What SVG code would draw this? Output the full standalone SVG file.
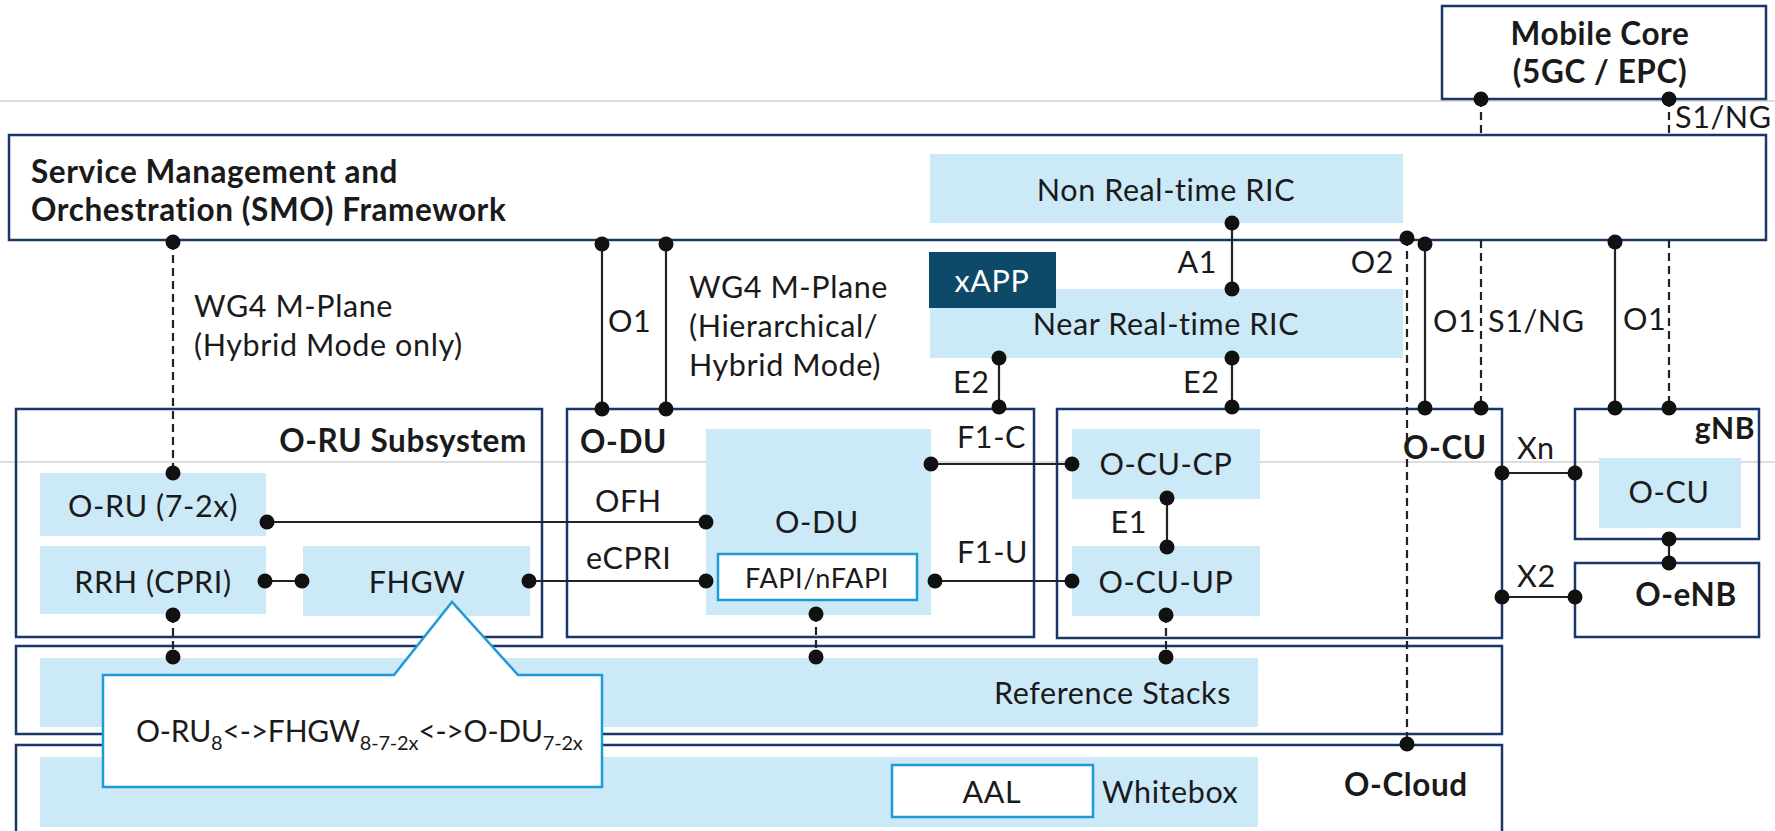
<svg xmlns="http://www.w3.org/2000/svg" width="1775" height="831" viewBox="0 0 1775 831">
<style>
.bg{fill:#ffffff}
.grid{stroke:#d2d2d2;stroke-width:1.5;fill:none}
.box{fill:none;stroke:#1b3668;stroke-width:2.5}
.wbox{fill:#ffffff;stroke:#1b3668;stroke-width:2.5}
.blue{fill:#cce9f8}
.dark{fill:#0d4a6a}
.ibox{fill:#ffffff;stroke:#1e9ad6;stroke-width:2.5}
.ln{stroke:#222;stroke-width:2.2;fill:none}
.dl{stroke:#222;stroke-width:2.2;fill:none;stroke-dasharray:8 5}
.dot{fill:#111}
text{font-family:Lato,"Open Sans","DejaVu Sans",sans-serif;font-size:30.5px;fill:#1a1a1a;letter-spacing:0.6px}
.b{font-weight:bold;font-size:31.5px}
.m{text-anchor:middle}
.e{text-anchor:end}
.w{fill:#ffffff}
.s{font-size:27px}
.sub{font-size:20px}
</style>
<rect class="bg" x="0" y="0" width="1775" height="831"/>
<g id="gridlines">
<line class="grid" x1="0" y1="101" x2="1775" y2="101"/>
<line class="grid" x1="0" y1="462" x2="1775" y2="462"/>
</g>
<g id="mobile-core">
<rect class="wbox" x="1442" y="6" width="324" height="93"/>
<text class="b m" x="1600" y="45">Mobile Core</text>
<text class="b m" x="1600" y="83">(5GC / EPC)</text>
</g>
<g id="smo">
<rect class="wbox" x="9" y="135" width="1757" height="105"/>
<text class="b" x="31" y="183">Service Management and</text>
<text class="b" x="31" y="221">Orchestration (SMO) Framework</text>
</g>
<g id="non-rt-ric">
<rect class="blue" x="930" y="154" width="473" height="69"/>
<text class="m" x="1166" y="201">Non Real-time RIC</text>
</g>
<g id="near-rt-ric">
<rect class="blue" x="930" y="289" width="473" height="69"/>
<text class="m" x="1166" y="335">Near Real-time RIC</text>
</g>
<g id="xapp">
<rect class="dark" x="929" y="252" width="127" height="56"/>
<text class="m w" x="992" y="292">xAPP</text>
</g>
<g id="oru-subsystem">
<rect class="box" x="16" y="409" width="526" height="228"/>
<text class="b e" x="527" y="452">O-RU Subsystem</text>
</g>
<g id="oru">
<rect class="blue" x="40" y="473" width="226" height="63"/>
<text class="m" x="153" y="517">O-RU (7-2x)</text>
</g>
<g id="rrh">
<rect class="blue" x="40" y="546" width="226" height="68"/>
<text class="m" x="153" y="593">RRH (CPRI)</text>
</g>
<g id="fhgw">
<rect class="blue" x="303" y="546" width="227" height="70"/>
<text class="m" x="417" y="593">FHGW</text>
</g>
<g id="odu-box">
<rect class="box" x="567" y="409" width="467" height="228"/>
<text class="b" x="580" y="453">O-DU</text>
</g>
<g id="odu">
<rect class="blue" x="706" y="429" width="225" height="186"/>
<text class="m" x="817" y="533">O-DU</text>
</g>
<g id="fapi">
<rect class="ibox" x="718" y="554" width="199" height="46"/>
<text class="m s" x="817" y="588">FAPI/nFAPI</text>
</g>
<g id="ocu-box">
<rect class="box" x="1057" y="409" width="445" height="229"/>
<text class="b" x="1403" y="459">O-CU</text>
</g>
<g id="ocu-cp">
<rect class="blue" x="1072" y="429" width="188" height="70"/>
<text class="m" x="1166" y="475">O-CU-CP</text>
</g>
<g id="ocu-up">
<rect class="blue" x="1072" y="546" width="188" height="70"/>
<text class="m" x="1166" y="593">O-CU-UP</text>
</g>
<g id="gnb">
<rect class="box" x="1575" y="409" width="184" height="130"/>
<text class="b e" x="1755" y="439" style="font-size:30px">gNB</text>
<rect class="blue" x="1599" y="458" width="142" height="70"/>
<text class="m" x="1669" y="503">O-CU</text>
</g>
<g id="oenb">
<rect class="box" x="1575" y="563" width="184" height="74"/>
<text class="b m" x="1686" y="606">O-eNB</text>
</g>
<g id="ref-stacks">
<rect class="box" x="16" y="646" width="1486" height="88"/>
<rect class="blue" x="40" y="658" width="1218" height="69"/>
<text x="994" y="704">Reference Stacks</text>
</g>
<g id="ocloud">
<rect class="box" x="16" y="745" width="1486" height="100"/>
<rect class="blue" x="40" y="757" width="1218" height="70"/>
<rect class="ibox" x="892" y="765" width="201" height="52"/>
<text class="m" x="992" y="803">AAL</text>
<text x="1102" y="803">Whitebox</text>
<text class="b" x="1344" y="796">O-Cloud</text>
</g>
<g id="connectors">
<line class="dl" x1="1481" y1="99" x2="1481" y2="135"/>
<line class="dl" x1="1481" y1="240" x2="1481" y2="408"/>
<line class="dl" x1="1669" y1="99" x2="1669" y2="135"/>
<line class="dl" x1="1669" y1="240" x2="1669" y2="408"/>
<line class="dl" x1="173" y1="242" x2="173" y2="473"/>
<line class="dl" x1="173" y1="615" x2="173" y2="657"/>
<line class="dl" x1="816" y1="614" x2="816" y2="657"/>
<line class="dl" x1="1166" y1="615" x2="1166" y2="657"/>
<line class="dl" x1="1407" y1="238" x2="1407" y2="744"/>
<line class="ln" x1="602" y1="244" x2="602" y2="409"/>
<line class="ln" x1="666" y1="244" x2="666" y2="409"/>
<line class="ln" x1="1232" y1="223" x2="1232" y2="289"/>
<line class="ln" x1="999" y1="358" x2="999" y2="407"/>
<line class="ln" x1="1232" y1="358" x2="1232" y2="407"/>
<line class="ln" x1="1425" y1="244" x2="1425" y2="408"/>
<line class="ln" x1="1615" y1="242" x2="1615" y2="408"/>
<line class="ln" x1="267" y1="522" x2="706" y2="522"/>
<line class="ln" x1="265" y1="581" x2="302" y2="581"/>
<line class="ln" x1="529" y1="581" x2="706" y2="581"/>
<line class="ln" x1="931" y1="464" x2="1072" y2="464"/>
<line class="ln" x1="935" y1="581" x2="1072" y2="581"/>
<line class="ln" x1="1167" y1="498" x2="1167" y2="547"/>
<line class="ln" x1="1502" y1="473" x2="1575" y2="473"/>
<line class="ln" x1="1502" y1="597" x2="1575" y2="597"/>
<line class="ln" x1="1669" y1="539" x2="1669" y2="563"/>
<circle class="dot" cx="1481" cy="99" r="7.5"/>
<circle class="dot" cx="1669" cy="99" r="7.5"/>
<circle class="dot" cx="173" cy="242" r="7.5"/>
<circle class="dot" cx="173" cy="473" r="7.5"/>
<circle class="dot" cx="173" cy="615" r="7.5"/>
<circle class="dot" cx="173" cy="657" r="7.5"/>
<circle class="dot" cx="816" cy="614" r="7.5"/>
<circle class="dot" cx="816" cy="657" r="7.5"/>
<circle class="dot" cx="1166" cy="615" r="7.5"/>
<circle class="dot" cx="1166" cy="657" r="7.5"/>
<circle class="dot" cx="1407" cy="238" r="7.5"/>
<circle class="dot" cx="1407" cy="744" r="7.5"/>
<circle class="dot" cx="602" cy="244" r="7.5"/>
<circle class="dot" cx="602" cy="409" r="7.5"/>
<circle class="dot" cx="666" cy="244" r="7.5"/>
<circle class="dot" cx="666" cy="409" r="7.5"/>
<circle class="dot" cx="1232" cy="223" r="7.5"/>
<circle class="dot" cx="1232" cy="289" r="7.5"/>
<circle class="dot" cx="999" cy="358" r="7.5"/>
<circle class="dot" cx="999" cy="407" r="7.5"/>
<circle class="dot" cx="1232" cy="358" r="7.5"/>
<circle class="dot" cx="1232" cy="407" r="7.5"/>
<circle class="dot" cx="1425" cy="244" r="7.5"/>
<circle class="dot" cx="1425" cy="408" r="7.5"/>
<circle class="dot" cx="1481" cy="408" r="7.5"/>
<circle class="dot" cx="1615" cy="242" r="7.5"/>
<circle class="dot" cx="1615" cy="408" r="7.5"/>
<circle class="dot" cx="1669" cy="408" r="7.5"/>
<circle class="dot" cx="267" cy="522" r="7.5"/>
<circle class="dot" cx="706" cy="522" r="7.5"/>
<circle class="dot" cx="265" cy="581" r="7.5"/>
<circle class="dot" cx="302" cy="581" r="7.5"/>
<circle class="dot" cx="529" cy="581" r="7.5"/>
<circle class="dot" cx="706" cy="581" r="7.5"/>
<circle class="dot" cx="931" cy="464" r="7.5"/>
<circle class="dot" cx="1072" cy="464" r="7.5"/>
<circle class="dot" cx="935" cy="581" r="7.5"/>
<circle class="dot" cx="1072" cy="581" r="7.5"/>
<circle class="dot" cx="1167" cy="498" r="7.5"/>
<circle class="dot" cx="1167" cy="547" r="7.5"/>
<circle class="dot" cx="1502" cy="473" r="7.5"/>
<circle class="dot" cx="1575" cy="473" r="7.5"/>
<circle class="dot" cx="1502" cy="597" r="7.5"/>
<circle class="dot" cx="1575" cy="597" r="7.5"/>
<circle class="dot" cx="1669" cy="539" r="7.5"/>
<circle class="dot" cx="1669" cy="563" r="7.5"/>
</g>
<g id="labels">
<text x="1675" y="128">S1/NG</text>
<text x="194" y="317">WG4 M-Plane</text>
<text x="194" y="356">(Hybrid Mode only)</text>
<text x="608" y="332">O1</text>
<text x="689" y="298">WG4 M-Plane</text>
<text x="689" y="337">(Hierarchical/</text>
<text x="689" y="376">Hybrid Mode)</text>
<text class="e" x="1217" y="273">A1</text>
<text class="e" x="1394" y="273">O2</text>
<text x="953" y="393">E2</text>
<text x="1183" y="393">E2</text>
<text x="1433" y="332">O1</text>
<text x="1488" y="332">S1/NG</text>
<text x="1623" y="330">O1</text>
<text x="595" y="512">OFH</text>
<text x="586" y="569">eCPRI</text>
<text x="957" y="448">F1-C</text>
<text x="957" y="563">F1-U</text>
<text class="e" x="1147" y="533">E1</text>
<text x="1517" y="459">Xn</text>
<text x="1517" y="587">X2</text>
</g>
<g id="callout">
<path d="M103,675 H394 L452,602 L518,675 H602 V787 H103 Z" fill="#ffffff" stroke="#1e9ad6" stroke-width="2.5"/>
<text x="136" y="742" style="letter-spacing:-0.2px;font-size:30px">O-RU<tspan class="sub" dy="8">8</tspan><tspan dy="-8">&lt;-&gt;FHGW</tspan><tspan class="sub" dy="8">8-7-2x</tspan><tspan dy="-8">&lt;-&gt;O-DU</tspan><tspan class="sub" dy="8">7-2x</tspan></text>
</g>
</svg>
